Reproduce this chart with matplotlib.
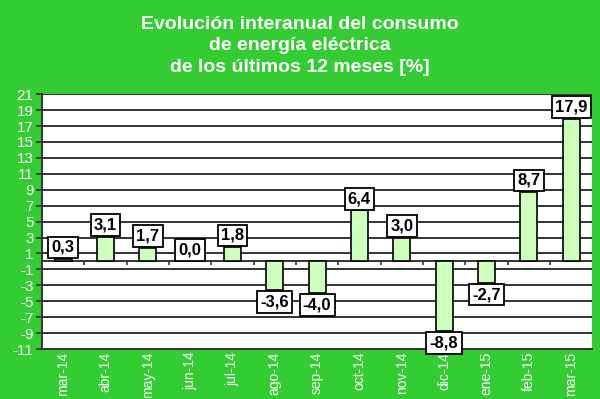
import numpy as np
import matplotlib.pyplot as plt

# monthly year-on-year change in electricity consumption (%)
months = ['mar-14', 'abr-14', 'may-14', 'jun-14', 'jul-14', 'ago-14', 'sep-14',
          'oct-14', 'nov-14', 'dic-14', 'ene-15', 'feb-15', 'mar-15']
values = [0.3, 3.1, 1.7, 0.0, 1.8, -3.6, -4.0, 6.4, 3.0, -8.8, -2.7, 8.7, 17.9]
yticks = list(range(-11, 22, 2))

bg_green = '#33cc33'
bar_green = '#ccffbb'
dark = '#333333'

plt.rcParams['font.family'] = ['Liberation Sans', 'DejaVu Sans']

fig = plt.figure(figsize=(6, 3.99), dpi=100, facecolor=bg_green)
ax = fig.add_axes([0.07, 0.1253, 0.917, 0.6387])
ax.set_facecolor('white')

x = np.arange(len(months))
ax.bar(x, values, width=0.4, color=bar_green, edgecolor='black', linewidth=1.2, zorder=3)

# value labels in boxes: above positive bars, below negative ones
for xi, v in zip(x, values):
    txt = f'{v:.1f}'.replace('.', ',')
    if v >= 0:
        ax.annotate(txt, (xi, v), xytext=(0, 3), textcoords='offset points',
                    ha='center', va='bottom', fontsize=12, fontweight='bold',
                    bbox=dict(boxstyle='square,pad=0.2', fc='white', ec='black', lw=1.3),
                    zorder=5)
    else:
        ax.annotate(txt, (xi, v), xytext=(0, -3), textcoords='offset points',
                    ha='center', va='top', fontsize=12, fontweight='bold',
                    bbox=dict(boxstyle='square,pad=0.2', fc='white', ec='black', lw=1.3),
                    zorder=5)

ax.set_xlim(-0.5, len(months) - 0.5)
ax.set_ylim(-11, 21)
ax.set_yticks(yticks)
ax.set_yticklabels([str(t) for t in yticks], color='white', fontsize=11)
ax.set_xticks(x)
ax.set_xticklabels(months, rotation=90, color='white', fontsize=10)
ax.tick_params(axis='x', length=0, pad=2)
ax.tick_params(axis='y', length=4, color=dark, width=1.2, pad=2)

ax.grid(axis='y', color=dark, linewidth=1.4, zorder=1)
ax.axhline(0, color=dark, linewidth=1.4, zorder=2)
# small tick marks on the zero line between categories
ax.vlines(np.arange(0.5, len(months) - 1, 1), -0.5, 0, color=dark, linewidth=1.2, zorder=2)

for s in ['top', 'right']:
    ax.spines[s].set_visible(False)
ax.spines['left'].set_color(dark)
ax.spines['left'].set_linewidth(1.4)
ax.spines['bottom'].set_color(dark)
ax.spines['bottom'].set_linewidth(1.4)

fig.text(0.5, 0.885, 'Evolución interanual del consumo\nde energía eléctrica\nde los últimos 12 meses [%]',
         ha='center', va='center', color='white', fontsize=14, fontweight='bold', linespacing=1.36)

fig.savefig('out.png', dpi=100, facecolor=bg_green)
